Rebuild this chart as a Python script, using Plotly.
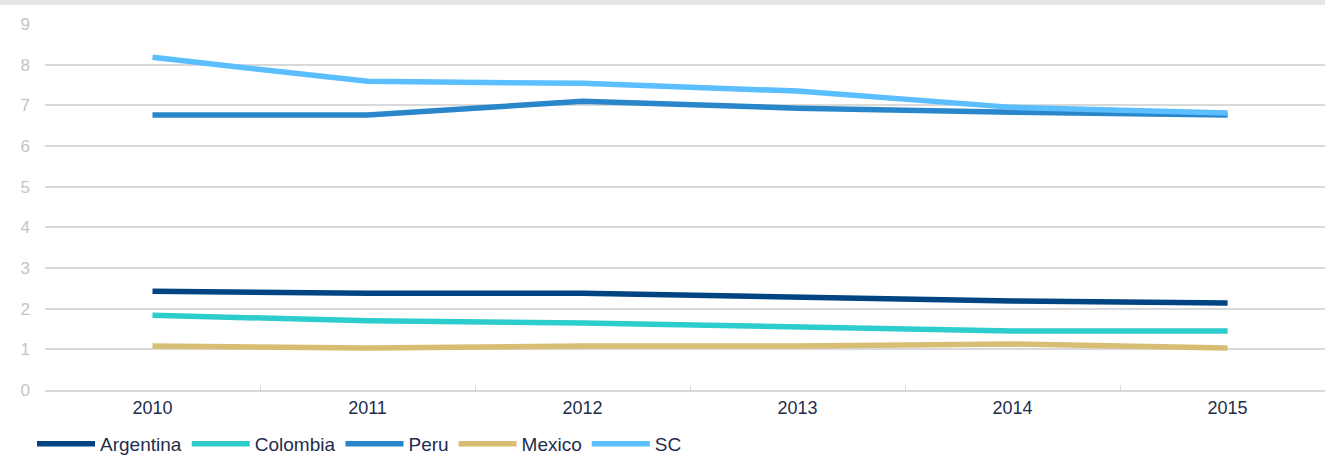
import plotly.graph_objects as go

years = ["2010", "2011", "2012", "2013", "2014", "2015"]
argentina = [2.43, 2.38, 2.38, 2.29, 2.19, 2.14]
colombia = [1.84, 1.70, 1.65, 1.55, 1.45, 1.45]
peru = [6.76, 6.76, 7.10, 6.93, 6.83, 6.76]
mexico = [1.08, 1.03, 1.08, 1.08, 1.13, 1.03]
sc = [8.18, 7.59, 7.54, 7.35, 6.95, 6.81]

series = [
    ("Argentina", argentina, "#004481"),
    ("Colombia", colombia, "#2DCCCD"),
    ("Peru", peru, "#2A86CA"),
    ("Mexico", mexico, "#D8BE75"),
    ("SC", sc, "#5BBEFF"),
]

fig = go.Figure()
for name, vals, col in series:
    fig.add_trace(go.Scatter(x=years, y=vals, name=name, mode="lines",
                             line=dict(color=col, width=5.5)))

fig.update_layout(
    width=1325, height=455,
    margin=dict(l=45, r=0, t=24, b=65),
    paper_bgcolor="white", plot_bgcolor="white",
    font=dict(family="Liberation Sans, Arial, sans-serif", color="#1F2D4D", size=18),
    showlegend=True,
    legend=dict(orientation="h", x=32 / 1325, xanchor="left", xref="container",
                y=11 / 455, yanchor="middle", yref="container",
                font=dict(size=19, color="#1F2D4D"), itemwidth=58,
                traceorder="normal"),
    shapes=[dict(type="rect", xref="paper", yref="paper", x0=-0.05, x1=1.05,
                 y0=1.0 + 19 / 366, y1=1.0 + 24 / 366, fillcolor="#E6E6E6",
                 line=dict(width=0), layer="below")],
)

fig.update_xaxes(type="category", range=[-0.5, 5.453], showgrid=False,
                 showline=True, linecolor="#D9D9D9", linewidth=2,
                 ticks="inside", tickson="boundaries", ticklen=5,
                 tickcolor="#D9D9D9", tickwidth=1,
                 tickfont=dict(size=18, color="#1F2D4D"))
fig.update_yaxes(range=[0, 9], dtick=1, showgrid=True, gridcolor="#D9D9D9",
                 gridwidth=2, zeroline=False, showline=False,
                 ticklabelstandoff=14,
                 tickfont=dict(size=17, color="#C4C4C4"))

fig.write_html("out.html", config={"displayModeBar": False},
               post_script="document.body.style.margin='0';")
